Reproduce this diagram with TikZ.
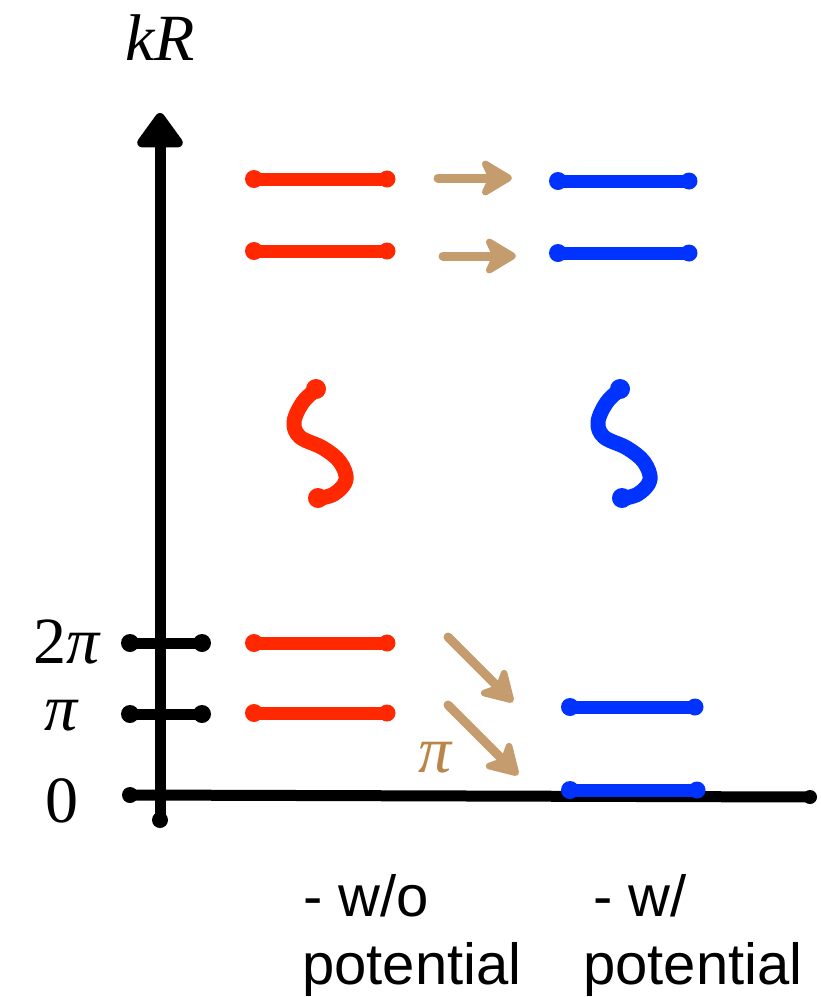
\documentclass[tikz,border=0pt]{standalone}
\usepackage{fontspec}
\setmainfont{Liberation Serif}
\setsansfont{Liberation Sans}
\usetikzlibrary{arrows.meta}
\definecolor{lvlred}{RGB}{255,40,0}
\definecolor{lvlblue}{RGB}{0,51,255}
\definecolor{tanarr}{RGB}{196,156,110}
\definecolor{tanpi}{RGB}{185,133,72}
\begin{document}
\begin{tikzpicture}[x=1pt,y=-1pt,
 axisline/.style={line width=11pt, line cap=round, black},
 lvlline/.style={line width=13pt, line cap=round},
 shiftarrow/.style={line width=9pt, line cap=round, tanarr, -{Stealth[length=37pt,width=44pt,inset=10pt,round]}},
 squig/.style={line width=15pt, line cap=round, line join=round},
 numlbl/.style={font=\fontsize{66}{70}\selectfont, inner sep=0pt, anchor=base},
 capt/.style={font=\sffamily\fontsize{58}{70}\selectfont, inner sep=0pt, anchor=base west},
]
\useasboundingbox (0,0) rectangle (821,997);

% axes
\coordinate (ybot) at (160,820);
\coordinate (ytop) at (160,113);
\coordinate (xl) at (130,795);
\coordinate (xr) at (810,797);
\draw[axisline, -{Triangle[length=38pt,width=52pt,round]}] (ybot) -- (ytop);
\draw[axisline] (xl) -- (xr);
\fill (xl) circle[radius=8pt] (xr) circle[radius=7pt] (ybot) circle[radius=8pt];

% ticks
\coordinate (t2l) at (130,643); \coordinate (t2r) at (202,643);
\coordinate (t1l) at (130,714); \coordinate (t1r) at (202,714);
\draw[axisline] (t2l) -- (t2r);
\draw[axisline] (t1l) -- (t1r);
\fill (t2l) circle[radius=9pt] (t2r) circle[radius=9pt] (t1l) circle[radius=9pt] (t1r) circle[radius=9pt];

% axis labels
\node[font=\itshape\fontsize{66}{70}\selectfont, inner sep=0pt, anchor=base] (kr) at (160,60) {kR};
\node[numlbl] (l2pi) at (67,663) {2\textit{π}};
\node[numlbl] (lpi) at (62,730) {\textit{π}};
\node[numlbl] (l0) at (62,822) {0};

% red levels
\foreach \yy in {179,251,643,713}{
  \draw[lvlline, lvlred] (254,\yy) -- (387,\yy);
  \fill[lvlred] (254,\yy) circle[radius=9pt] (387,\yy) circle[radius=8.5pt];
}
% blue levels
\foreach \yy/\xa/\xb in {181/558/689, 253/558/689, 707/570/695, 790/570/697}{
  \draw[lvlline, lvlblue] (\xa,\yy) -- (\xb,\yy);
  \fill[lvlblue] (\xa,\yy) circle[radius=9pt] (\xb,\yy) circle[radius=8.5pt];
}

% squiggles
\draw[squig, lvlred] plot[smooth, tension=0.6] coordinates {(318,388) (303,402) (294,422) (300,437) (323,448) (340,462) (346,480) (334,494) (316,499)};
\fill[lvlred] (316,389) circle[radius=10pt] (318,498) circle[radius=10pt];
\begin{scope}[xshift=304pt]
\draw[squig, lvlblue] plot[smooth, tension=0.6] coordinates {(318,388) (303,402) (294,422) (300,437) (323,448) (340,462) (346,480) (334,494) (316,499)};
\fill[lvlblue] (316,389) circle[radius=10pt] (318,498) circle[radius=10pt];
\end{scope}

% shift arrows
\coordinate (a1s) at (438,178); \coordinate (a1e) at (512,178);
\coordinate (a2s) at (443,256); \coordinate (a2e) at (516,256);
\coordinate (a3s) at (448,637); \coordinate (a3e) at (513,702);
\coordinate (a4s) at (448,705); \coordinate (a4e) at (518,775);
\draw[shiftarrow] (a1s) -- (a1e);
\draw[shiftarrow] (a2s) -- (a2e);
\draw[shiftarrow] (a3s) -- (a3e);
\draw[shiftarrow] (a4s) -- (a4e);
\node[numlbl, text=tanpi] (tpi) at (436,772) {\textit{π}};

% captions
\node[capt] (c1a) at (303,916) {- w/o};
\node[capt] (c1b) at (302,984) {potential};
\node[capt] (c2a) at (593,916) {- w/};
\node[capt] (c2b) at (583,984) {potential};
\end{tikzpicture}
\end{document}
